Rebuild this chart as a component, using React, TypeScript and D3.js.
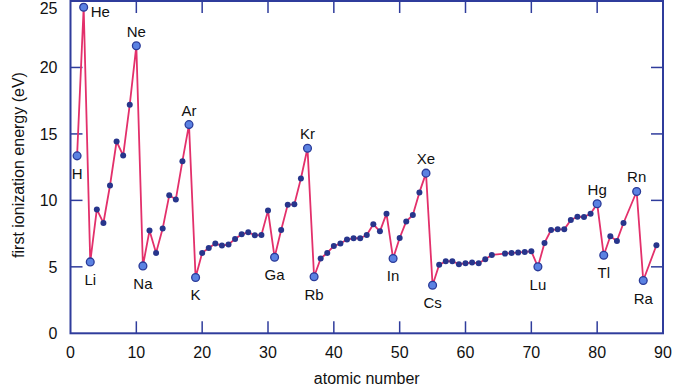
import React from 'react';
import { scaleLinear, line } from 'd3';

// atomic numbers and first ionization energies (eV)
const atomicNumbers = [
  1, 2, 3, 4, 5, 6, 7, 8, 9, 10, 11, 12, 13, 14, 15, 16, 17, 18, 19, 20,
  21, 22, 23, 24, 25, 26, 27, 28, 29, 30, 31, 32, 33, 34, 35, 36, 37, 38, 39, 40,
  41, 42, 43, 44, 45, 46, 47, 48, 49, 50, 51, 52, 53, 54, 55, 56, 57, 58, 59, 60,
  61, 62, 63, 64, 66, 67, 68, 69, 70, 71, 72, 73, 74, 75, 76, 77, 78, 79, 80,
  81, 82, 83, 84, 86, 87, 89,
];
const energies = [
  13.35, 24.53, 5.37, 9.32, 8.3, 11.12, 14.43, 13.37, 17.2, 21.63, 5.07, 7.73, 6.05, 7.88, 10.38, 10.07, 12.95, 15.7, 4.2, 6.05,
  6.42, 6.75, 6.6, 6.68, 7.1, 7.45, 7.6, 7.37, 7.4, 9.23, 5.72, 7.77, 9.68, 9.7, 11.65, 13.92, 4.25, 5.63, 6.05, 6.57,
  6.75, 7.05, 7.15, 7.15, 7.4, 8.2, 7.67, 9.0, 5.63, 7.17, 8.42, 8.9, 10.6, 12.05, 3.62, 5.15, 5.42, 5.42, 5.2, 5.27,
  5.32, 5.27, 5.57, 5.9, 6.0, 6.05, 6.07, 6.12, 6.17, 5.0, 6.8, 7.77, 7.82, 7.82, 8.52, 8.77, 8.75, 9.0, 9.75,
  5.87, 7.3, 6.95, 8.3, 10.67, 3.97, 6.62,
];

// highlighted elements: symbol, atomic number, label side
const labelSymbols = ['H', 'He', 'Li', 'Ne', 'Na', 'Ar', 'K', 'Ga', 'Kr', 'Rb', 'In', 'Xe', 'Cs', 'Lu', 'Hg', 'Tl', 'Rn', 'Ra'];
const labelNumbers = [1, 2, 3, 10, 11, 18, 19, 31, 36, 37, 49, 54, 55, 71, 80, 81, 86, 87];
const labelSides = ['below', 'right', 'below', 'above', 'below', 'above', 'below', 'below', 'above', 'below', 'below', 'above', 'below', 'below', 'above', 'below', 'above', 'below'];

const xTicks = [0, 10, 20, 30, 40, 50, 60, 70, 80, 90];
const yTicks = [0, 5, 10, 15, 20, 25];

const W = 690;
const H = 388;
const left = 70.5;
const right = 663;
const top = 1;
const bottom = 333.3;
const axisColor = '#2f3c9c';
const lineColor = '#e3306b';
const font = 'Liberation Sans, Arial, Helvetica, sans-serif';

export default function App() {
  const x = scaleLinear().domain([0, 90]).range([left, right]);
  const y = scaleLinear().domain([0, 25]).range([bottom, top]);
  const pts = atomicNumbers.map((z, i) => ({ z, e: energies[i] }));
  const path = line<{ z: number; e: number }>().x(d => x(d.z)).y(d => y(d.e))(pts);
  const tl = 12;

  return (
    <svg width={W} height={H} style={{ position: 'absolute', left: 0, top: 0, background: '#fff' }} fontFamily={font}>
      {/* inward ticks */}
      {xTicks.slice(1, -1).map(t => (
        <g key={'xt' + t} stroke={axisColor} strokeWidth={1.5}>
          <line x1={x(t)} x2={x(t)} y1={bottom} y2={bottom - tl} />
          <line x1={x(t)} x2={x(t)} y1={top} y2={top + tl} />
        </g>
      ))}
      {yTicks.slice(1, -1).map(t => (
        <g key={'yt' + t} stroke={axisColor} strokeWidth={1.5}>
          <line x1={left} x2={left + tl} y1={y(t)} y2={y(t)} />
          <line x1={right} x2={right - tl} y1={y(t)} y2={y(t)} />
        </g>
      ))}
      <rect x={left} y={top} width={right - left} height={bottom - top} fill="none" stroke={axisColor} strokeWidth={2} />

      {xTicks.map(t => (
        <text key={'xl' + t} x={x(t)} y={bottom + 25} textAnchor="middle" fontSize={16} fill="#111">{t}</text>
      ))}
      {yTicks.map(t => (
        <text key={'yl' + t} x={left - 13} y={Math.max(y(t) + 6, 14)} textAnchor="end" fontSize={16} fill="#111">{t}</text>
      ))}
      <text x={(left + right) / 2} y={384} textAnchor="middle" fontSize={16} fill="#111">atomic number</text>
      <text transform={`translate(24,${165}) rotate(-90)`} textAnchor="middle" fontSize={16} fill="#111">first ionization energy (eV)</text>

      <path d={path || ''} fill="none" stroke={lineColor} strokeWidth={1.8} strokeLinejoin="round" />
      {pts.filter(p => !labelNumbers.includes(p.z)).map(p => (
        <circle key={'p' + p.z} cx={x(p.z)} cy={y(p.e)} r={3} fill="#27358c" />
      ))}
      {labelNumbers.map((z, i) => {
        const e = energies[atomicNumbers.indexOf(z)];
        const cx = x(z);
        const cy = y(e);
        const side = labelSides[i];
        const tx = side === 'right' ? cx + 7 : cx;
        const ty = side === 'above' ? cy - 9 : side === 'below' ? cy + 23 : cy + 10;
        return (
          <g key={'lab' + z}>
            <circle cx={cx} cy={cy} r={3.9} fill="#5b82e2" stroke="#2a3a98" strokeWidth={1.3} />
            <text x={tx} y={ty} textAnchor={side === 'right' ? 'start' : 'middle'} fontSize={15} fill="#111">{labelSymbols[i]}</text>
          </g>
        );
      })}
    </svg>
  );
}
